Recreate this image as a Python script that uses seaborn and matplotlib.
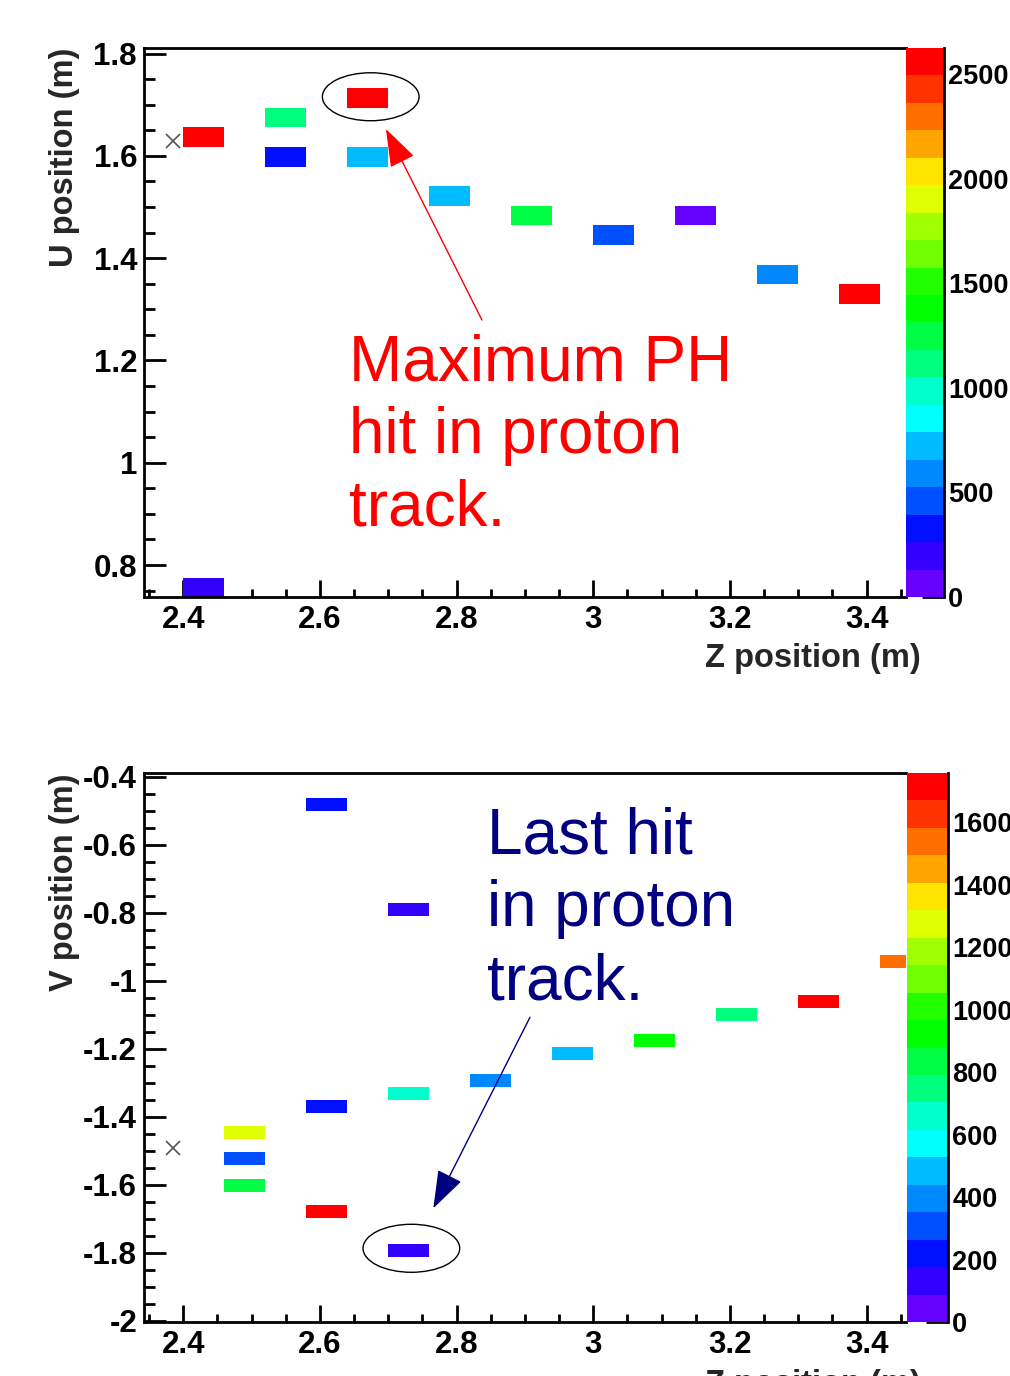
import numpy as np
import matplotlib
matplotlib.use("Agg")
import matplotlib.pyplot as plt
from matplotlib.colors import ListedColormap
from matplotlib.patches import Ellipse
from matplotlib.ticker import MultipleLocator, FuncFormatter
import seaborn as sns

# ---------------- data ----------------
# ROOT rainbow palette, 20 contour levels (bottom -> top)
palette_colors = ["#6600ff", "#3300ff", "#0010ff", "#0050ff", "#0088ff",
                  "#00bbff", "#00ffff", "#00ffcc", "#00ff7f", "#00ff44",
                  "#00ff00", "#22ff00", "#70ff00", "#a0ff00", "#e0ff00",
                  "#ffe500", "#ffa500", "#ff6f00", "#ff3300", "#ff0000"]

# Top view: Z vs U, pulse height
u_hit_z = [2.43, 2.43, 2.55, 2.55, 2.67, 2.67, 2.79, 2.91, 3.03, 3.15, 3.27, 3.39]
u_hit_u = [1.636, 0.756, 1.675, 1.598, 1.713, 1.598, 1.521, 1.483, 1.445, 1.483, 1.368, 1.330]
u_hit_ph = [2580, 200, 1120, 330, 2580, 720, 720, 1250, 460, 60, 590, 2580]

# Bottom view: Z vs V, pulse height
v_hit_z = [2.61, 2.73, 3.45, 3.33, 3.21, 3.09, 2.97, 2.85, 2.73, 2.61, 2.49, 2.49, 2.49, 2.61, 2.73]
v_hit_v = [-0.482, -0.791, -0.945, -1.061, -1.100, -1.177, -1.216, -1.293, -1.332, -1.370,
           -1.448, -1.525, -1.602, -1.679, -1.795]
v_hit_ph = [220, 130, 1540, 1710, 750, 920, 480, 400, 660, 220, 1270, 300, 830, 1710, 130]

# vertex markers (x)
vertex_u = (2.3854, 1.629)
vertex_v = (2.3846, -1.4935)

# histogram binning (start, width, count)
z_bins = (2.34, 0.06, 19)
u_bins = (0.7363, 0.0383, 28)
v_bins = (-2.0462, 0.03863, 43)

# colour scale ranges and ticks
u_ph_max = 2625
v_ph_max = 1757
u_cbar_ticks = [0, 500, 1000, 1500, 2000, 2500]
v_cbar_ticks = [0, 200, 400, 600, 800, 1000, 1200, 1400, 1600]

# axis ranges
z_range = (2.3425, 3.4577)
u_range = (0.7375, 1.8108)
v_range = (-2.0044, -0.3897)

# annotations
u_text = "Maximum PH\nhit in proton\ntrack."
v_text = "Last hit\nin proton\ntrack."


def edges(spec):
    start, width, n = spec
    return start + width * np.arange(n + 1)


sns.set_style("white")
plt.rcParams["font.family"] = ["Liberation Sans", "DejaVu Sans"]
plt.rcParams["font.weight"] = "bold"

W, H = 1010, 1376
fig = plt.figure(figsize=(W / 100, H / 100), dpi=100)
fig.patch.set_facecolor("white")


def fx(px):
    return px / W


def fy(py):
    return 1 - py / H


cmap = ListedColormap(palette_colors)

ax_top = fig.add_axes([fx(144), fy(597), fx(762), 549 / H])
cax_top = fig.add_axes([fx(906), fy(597), fx(38), 549 / H])
ax_bot = fig.add_axes([fx(144), fy(1322), fx(762), 549 / H])
cax_bot = fig.add_axes([fx(907), fy(1322), fx(41), 549 / H])

sns.histplot(x=u_hit_z, y=u_hit_u, weights=u_hit_ph,
             bins=(edges(z_bins), edges(u_bins)), cmap=cmap,
             vmin=0, vmax=u_ph_max, thresh=0, cbar=True, cbar_ax=cax_top,
             ax=ax_top, linewidth=0)
sns.histplot(x=v_hit_z, y=v_hit_v, weights=v_hit_ph,
             bins=(edges(z_bins), edges(v_bins)), cmap=cmap,
             vmin=0, vmax=v_ph_max, thresh=0, cbar=True, cbar_ax=cax_bot,
             ax=ax_bot, linewidth=0)

fmt_g = FuncFormatter(lambda v, p: "%g" % round(v, 6))

for ax, yr in ((ax_top, u_range), (ax_bot, v_range)):
    ax.set_xlim(*z_range)
    ax.set_ylim(*yr)
    ax.set_xlabel("")
    ax.set_ylabel("")
    ax.grid(False)
    ax.set_facecolor("white")
    for side in ("top", "left", "bottom"):
        ax.spines[side].set_visible(True)
        ax.spines[side].set_color("black")
        ax.spines[side].set_linewidth(2.0)
    ax.spines["right"].set_visible(False)
    ax.xaxis.set_major_locator(MultipleLocator(0.2))
    ax.xaxis.set_minor_locator(MultipleLocator(0.05))
    ax.yaxis.set_major_locator(MultipleLocator(0.2))
    ax.yaxis.set_minor_locator(MultipleLocator(0.05))
    ax.xaxis.set_major_formatter(fmt_g)
    ax.yaxis.set_major_formatter(fmt_g)
    ax.tick_params(axis="y", which="major", direction="in", length=16, width=2,
                   labelsize=22.5, pad=5, left=True, right=False, colors="black")
    ax.tick_params(axis="y", which="minor", direction="in", length=8, width=2,
                   left=True, right=False, colors="black")
    ax.tick_params(axis="x", which="major", direction="in", length=12.5, width=2,
                   labelsize=22.5, pad=6, bottom=True, top=False, colors="black")
    ax.tick_params(axis="x", which="minor", direction="in", length=6, width=2,
                   bottom=True, top=False, colors="black")

for ax, cax, ticks in ((ax_top, cax_top, u_cbar_ticks), (ax_bot, cax_bot, v_cbar_ticks)):
    cb = ax.collections[0].colorbar
    cb.set_ticks(ticks)
    cb.minorticks_off()
    cb.outline.set_visible(False)
    cax.yaxis.set_major_formatter(FuncFormatter(lambda v, p: "%d" % v))
    cax.yaxis.set_ticks_position("right")
    cax.spines["right"].set_visible(True)
    cax.spines["right"].set_color("black")
    cax.spines["right"].set_linewidth(2.0)
    cax.tick_params(axis="y", which="major", direction="in", length=16, width=2,
                    labelsize=19.5, pad=3, right=True, left=False, colors="black")

# vertex markers
ax_top.plot([vertex_u[0]], [vertex_u[1]], marker="x", color="#555555", ms=10, mew=1.2, ls="none")
ax_bot.plot([vertex_v[0]], [vertex_v[1]], marker="x", color="#555555", ms=10, mew=1.2, ls="none")

# ellipses
ax_top.add_patch(Ellipse((2.6743, 1.7155), 0.1415, 0.0938, fill=False, edgecolor="black", lw=1.0))
ax_bot.add_patch(Ellipse((2.7338, -1.7876), 0.1415, 0.1412, fill=False, edgecolor="black", lw=1.0))

# arrows
ax_top.annotate("", xy=(2.6966, 1.6524), xytext=(2.8371, 1.279),
                arrowprops=dict(arrowstyle="-|>,head_length=1.2,head_width=0.42",
                                mutation_scale=20, color="red", lw=1.0,
                                shrinkA=0, shrinkB=0))
ax_bot.annotate("", xy=(2.7659, -1.670), xytext=(2.9074, -1.1082),
                arrowprops=dict(arrowstyle="-|>,head_length=1.2,head_width=0.42",
                                mutation_scale=20, color="#000080", lw=1.0,
                                shrinkA=0, shrinkB=0))

# annotation texts
ax_top.text(2.6418, 1.2536, u_text, color="red", fontsize=46, fontweight="normal",
            ha="left", va="top", linespacing=1.27)
ax_bot.text(2.8452, -0.4888, v_text, color="#000080", fontsize=46, fontweight="normal",
            ha="left", va="top", linespacing=1.27)

# axis titles
fig.text(fx(64), fy(48), "U position (m)", rotation=90, ha="center", va="top",
         fontsize=23.5, fontweight="bold")
fig.text(fx(921), fy(659), "Z position (m)", ha="right", va="center",
         fontsize=23.5, fontweight="bold")
fig.text(fx(64), fy(773), "V position (m)", rotation=90, ha="center", va="top",
         fontsize=23.5, fontweight="bold")
fig.text(fx(921), fy(1384), "Z position (m)", ha="right", va="center",
         fontsize=23.5, fontweight="bold")

fig.savefig("out.png", dpi=100, facecolor="white")
